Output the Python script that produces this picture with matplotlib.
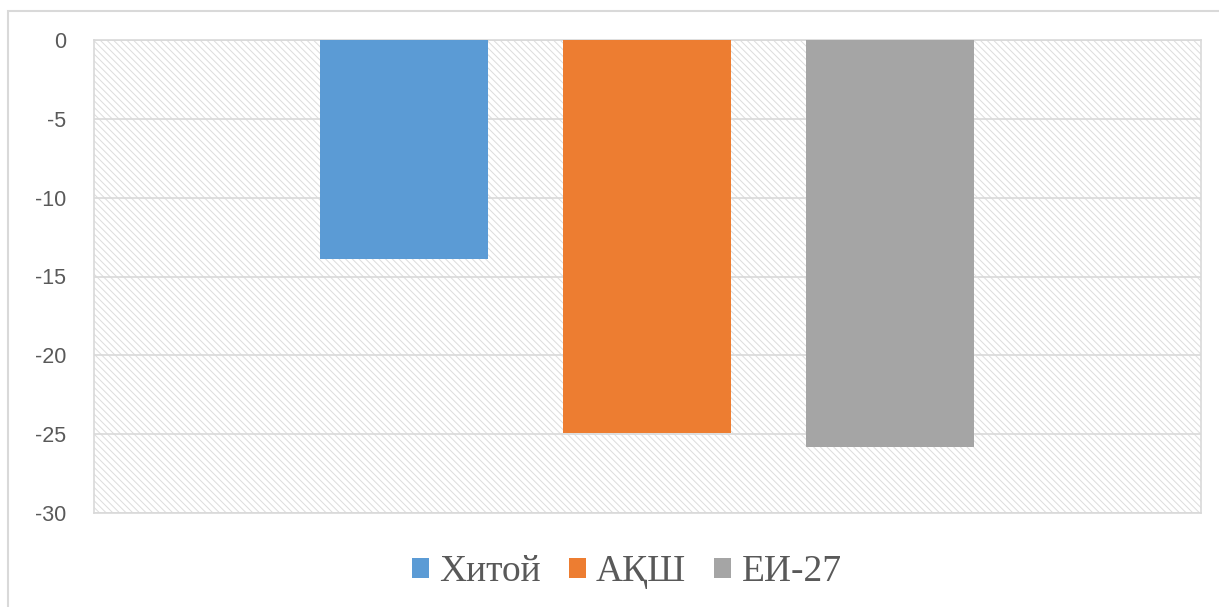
import matplotlib
matplotlib.use("Agg")
import matplotlib.pyplot as plt
from matplotlib.patches import Rectangle, Patch

series = ["Хитой", "АҚШ", "ЕИ-27"]
values = [-13.9, -24.9, -25.8]
colors = ["#5B9BD5", "#ED7D31", "#A5A5A5"]
yticks = [0, -5, -10, -15, -20, -25, -30]

plt.rcParams["hatch.color"] = "#dcdcdc"
plt.rcParams["hatch.linewidth"] = 0.7

W, H = 1219, 607
fig = plt.figure(figsize=(W / 100, H / 100), dpi=100)
fig.patches.append(Rectangle((8 / W, -0.1), 1.2, 1.1 - 11 / H,
                             transform=fig.transFigure, fill=False,
                             edgecolor="#d9d9d9", lw=1.5, zorder=0))

ax = fig.add_axes([94 / W, 1 - 513 / H, (1201 - 94) / W, (513 - 40) / H])
# hatched plot area background
ax.add_patch(Rectangle((0, 0), 1, 1, transform=ax.transAxes, facecolor="white",
                       hatch="\\" * 5, edgecolor="#dcdcdc", lw=0, zorder=0))

x = range(len(series))
ax.bar(x, values, width=0.69, color=colors, zorder=3)

ax.set_xlim(-1.276, 3.28)
ax.set_ylim(-30, 0)
ax.set_yticks(yticks)
ax.set_yticklabels([str(t) for t in yticks], fontsize=15.5, color="#595959",
                   family="Liberation Sans")
ax.set_xticks([])
ax.tick_params(axis="y", length=0, pad=20)
ax.yaxis.grid(True, color="#d9d9d9", lw=1.2, zorder=1)
ax.set_axisbelow(True)
for s in ax.spines.values():
    s.set_color("#d9d9d9")
    s.set_linewidth(1.2)

handles = [Patch(facecolor=c, label=s) for c, s in zip(colors, series)]
fig.legend(handles=handles, loc="center", bbox_to_anchor=(627 / W, 1 - 572 / H),
           ncol=3, frameon=False, handlelength=0.45, handleheight=0.45,
           handletextpad=0.27, columnspacing=0.75,
           prop={"family": "Liberation Serif", "size": 27}, labelcolor="#595959")

fig.savefig("out.png", dpi=100)
